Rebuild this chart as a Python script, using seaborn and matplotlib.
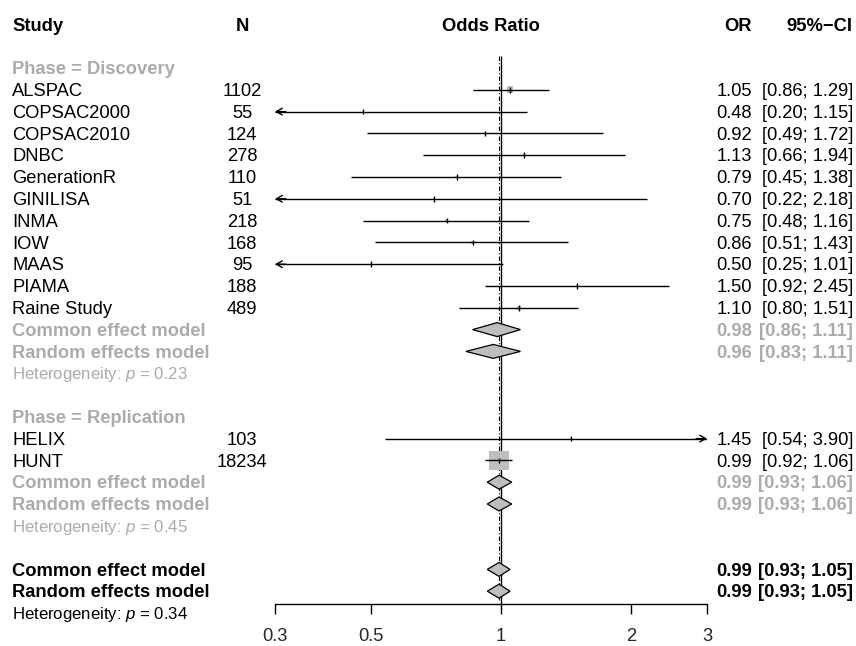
import matplotlib
matplotlib.use("Agg")
import matplotlib.pyplot as plt
import seaborn as sns
import pandas as pd
import numpy as np
from matplotlib.patches import Polygon
from matplotlib.transforms import blended_transform_factory

sns.set_theme(style="white")
plt.rcParams['font.family'] = ['Liberation Sans', 'DejaVu Sans']
plt.rcParams['mathtext.fontset'] = 'custom'
plt.rcParams['mathtext.rm'] = 'Liberation Sans'
plt.rcParams['mathtext.it'] = 'Liberation Sans:italic'

# =-= Data =-= #
disc_study = ["ALSPAC", "COPSAC2000", "COPSAC2010", "DNBC", "GenerationR", "GINILISA",
              "INMA", "IOW", "MAAS", "PIAMA", "Raine Study"]
disc_n = [1102, 55, 124, 278, 110, 51, 218, 168, 95, 188, 489]
disc_or = [1.05, 0.48, 0.92, 1.13, 0.79, 0.70, 0.75, 0.86, 0.50, 1.50, 1.10]
disc_lo = [0.86, 0.20, 0.49, 0.66, 0.45, 0.22, 0.48, 0.51, 0.25, 0.92, 0.80]
disc_hi = [1.29, 1.15, 1.72, 1.94, 1.38, 2.18, 1.16, 1.43, 1.01, 2.45, 1.51]
disc_common = (0.98, 0.86, 1.11)
disc_random = (0.96, 0.83, 1.11)
disc_het_p = 0.23

repl_study = ["HELIX", "HUNT"]
repl_n = [103, 18234]
repl_or = [1.45, 0.99]
repl_lo = [0.54, 0.92]
repl_hi = [3.90, 1.06]
repl_common = (0.99, 0.93, 1.06)
repl_random = (0.99, 0.93, 1.06)
repl_het_p = 0.45

all_common = (0.99, 0.93, 1.05)
all_random = (0.99, 0.93, 1.05)
all_het_p = 0.34

ticks = [0.3, 0.5, 1, 2, 3]

# =-= Layout =-= #
W, H = 856, 646
ROW0, ROWH = 68, 21.8
XMIN, XMAX = 0.3, 3
GRAY = "#ABABAB"
FS = 13.2
FS_HET = 12.1
TXT_DY = 0.08

fig = plt.figure(figsize=(W / 100, H / 100), dpi=100)
ax = fig.add_axes([275 / W, 0, 432 / W, 1])
ax.set_xscale("log")
ax.set_xlim(XMIN, XMAX)
ax.set_ylim((H - ROW0) / ROWH, -ROW0 / ROWH)
ax.axis("off")
tr = blended_transform_factory(fig.transFigure, ax.transData)


def txt(xpx, r, s, ha="left", color="black", bold=False, size=FS):
    ax.text(xpx / W, r + TXT_DY, s, transform=tr, ha=ha, va="center", color=color,
            fontsize=size, fontweight="bold" if bold else "normal")


def ci_text(r, est, lo, hi, color="black", bold=False):
    txt(752, r, f"{est:.2f}", ha="right", color=color, bold=bold)
    txt(853, r, f"[{lo:.2f}; {hi:.2f}]", ha="right", color=color, bold=bold)


def diamond(r, est, lo, hi):
    h = 0.32
    ax.add_patch(Polygon([(lo, r), (est, r - h), (hi, r), (est, r + h)],
                         closed=True, facecolor="#BEBEBE", edgecolor="black",
                         lw=0.9, zorder=4))


# row numbers
rows_disc = list(range(1, 1 + len(disc_study)))
r = rows_disc[-1]
disc_rows_model = (r + 1, r + 2, r + 3)
repl_head = r + 5
rows_repl = [repl_head + 1 + i for i in range(len(repl_study))]
r = rows_repl[-1]
repl_rows_model = (r + 1, r + 2, r + 3)
all_rows_model = (r + 5, r + 6, r + 7)

df = pd.DataFrame({
    "study": disc_study + repl_study,
    "n": disc_n + repl_n,
    "est": disc_or + repl_or,
    "lo": disc_lo + repl_lo,
    "hi": disc_hi + repl_hi,
    "row": rows_disc + rows_repl,
})
# inverse-variance weights for square size
se = (np.log(df["hi"]) - np.log(df["lo"])) / 3.92
df["w"] = 1 / se ** 2

# reference lines
ax.vlines(1, -0.55, 24.59, color="black", lw=1.0, zorder=2)
ax.vlines(all_common[0], -0.55, 24.4, color="black", lw=0.8,
          linestyles=(0, (4, 2, 1, 2)), zorder=2)

# squares
sns.scatterplot(data=df, x="est", y="row", size="w", sizes=(0, 190),
                size_norm=(0, df["w"].max()), marker="s", color="#BEBEBE",
                edgecolor="none", legend=False, ax=ax, zorder=3)

arrow = dict(arrowstyle="->,head_length=0.35,head_width=0.2",
             lw=1.0, color="black", shrinkA=0, shrinkB=0)
for _, s in df.iterrows():
    lo = max(s["lo"], XMIN)
    hi = min(s["hi"], XMAX)
    ax.hlines(s["row"], lo, hi, color="black", lw=1.0, zorder=5)
    ax.vlines(s["est"], s["row"] - 0.13, s["row"] + 0.13, color="black", lw=1.0, zorder=5)
    if s["lo"] < XMIN:
        ax.annotate("", xy=(XMIN, s["row"]), xytext=(XMIN * 1.06, s["row"]),
                    arrowprops=arrow, annotation_clip=False, zorder=5)
    if s["hi"] > XMAX:
        ax.annotate("", xy=(XMAX, s["row"]), xytext=(XMAX / 1.06, s["row"]),
                    arrowprops=arrow, annotation_clip=False, zorder=5)
    txt(12, s["row"], s["study"])
    txt(242, s["row"], str(s["n"]), ha="center")
    ci_text(s["row"], s["est"], s["lo"], s["hi"])

# headers
txt(12, -2, "Study", bold=True)
txt(242, -2, "N", ha="center", bold=True)
txt(491, -2, "Odds Ratio", ha="center", bold=True)
txt(752, -2, "OR", ha="right", bold=True)
txt(852, -2, "95%\u2212CI", ha="right", bold=True)

# subgroups and overall
txt(12, 0, "Phase = Discovery", color=GRAY, bold=True)
txt(12, repl_head, "Phase = Replication", color=GRAY, bold=True)

groups = [
    (disc_rows_model, disc_common, disc_random, disc_het_p, GRAY),
    (repl_rows_model, repl_common, repl_random, repl_het_p, GRAY),
    (all_rows_model, all_common, all_random, all_het_p, "black"),
]
for (rc, rr, rh), com, ran, p, col in groups:
    txt(12, rc, "Common effect model", color=col, bold=True)
    txt(12, rr, "Random effects model", color=col, bold=True)
    txt(12, rh, f"Heterogeneity: $p$ = {p:.2f}", color=col, size=FS_HET)
    diamond(rc, *com)
    diamond(rr, *ran)
    ci_text(rc, *com, color=col, bold=True)
    ci_text(rr, *ran, color=col, bold=True)

# x axis drawn R-style
axis_y = 24.59
ax.plot([XMIN, XMAX], [axis_y, axis_y], color="black", lw=1.0, clip_on=False)
ax.vlines(ticks, axis_y, axis_y + 0.46, color="black", lw=1.0, clip_on=False)
for t in ticks:
    ax.text(t, 26.3, f"{t:g}", ha="center", va="baseline", fontsize=FS)

fig.savefig("out.png", dpi=100)
